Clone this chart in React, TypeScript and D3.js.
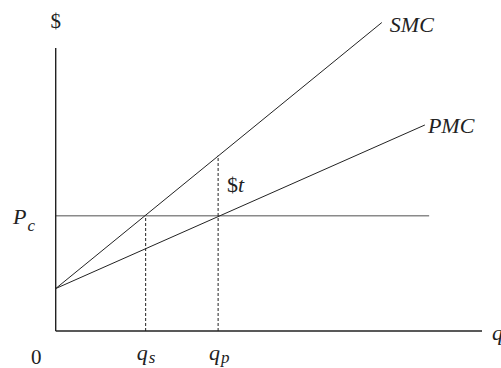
import React from "react";
import * as d3 from "d3";

// curves as endpoints in (quantity, price) units
const smcLine = [
  { q: 0, p: 1.5 },
  { q: 7.65, p: 10.9 },
];
const pmcLine = [
  { q: 0, p: 1.5 },
  { q: 8.66, p: 7.28 },
];
const priceCompetitive = 4.07;
const priceLineEnd = 8.76;
const dropQuantities = [2.11, 3.81];
const dropTops = [4.07, 6.2];
const dropLabels = ["s", "p"];

const width = 501;
const height = 368;
const margin = { top: 48, right: 19, bottom: 37, left: 55.7 };

const font = "Liberation Serif, Tinos, DejaVu Serif, serif";

export default function App() {
  const x = d3.scaleLinear().domain([0, 10]).range([margin.left, width - margin.right]);
  const y = d3.scaleLinear().domain([0, 10]).range([height - margin.bottom, margin.top]);

  const line = d3
    .line<{ q: number; p: number }>()
    .x(d => x(d.q))
    .y(d => y(d.p));

  const smcEnd = smcLine[smcLine.length - 1];
  const pmcEnd = pmcLine[pmcLine.length - 1];
  const txt = { fill: "#222", style: { fontFamily: font } };

  return (
    <svg
      width={width}
      height={height}
      style={{ position: "absolute", left: 0, top: 0, background: "#fff" }}
    >
      {/* competitive price line */}
      <line
        x1={x(0)}
        x2={x(priceLineEnd)}
        y1={y(priceCompetitive)}
        y2={y(priceCompetitive)}
        stroke="#8a8a8a"
        strokeWidth={1.6}
      />

      {/* dashed drop lines */}
      {dropQuantities.map((q, i) => (
        <line
          key={i}
          x1={x(q)}
          x2={x(q)}
          y1={y(0)}
          y2={y(dropTops[i])}
          stroke="#222"
          strokeWidth={1}
          strokeDasharray="3,2"
        />
      ))}

      <path d={line(smcLine) ?? ""} fill="none" stroke="#222" strokeWidth={1} />
      <path d={line(pmcLine) ?? ""} fill="none" stroke="#222" strokeWidth={1} />

      {/* axes */}
      <line x1={x(0)} x2={x(0)} y1={y(0)} y2={y(10)} stroke="#222" strokeWidth={1.4} />
      <line x1={x(0)} x2={x(10)} y1={y(0)} y2={y(0)} stroke="#222" strokeWidth={1.4} />

      {/* labels */}
      <text {...txt} x={x(0)} y={28} fontSize={21} textAnchor="middle">
        $
      </text>
      <text {...txt} x={x(smcEnd.q) + 8} y={31.5} fontSize={22} fontStyle="italic">
        SMC
      </text>
      <text {...txt} x={x(pmcEnd.q) + 3} y={y(pmcEnd.p) + 8} fontSize={22} fontStyle="italic">
        PMC
      </text>
      <text {...txt} x={227} y={192} fontSize={22}>
        $<tspan fontStyle="italic">t</tspan>
      </text>
      <text {...txt} x={13} y={y(priceCompetitive) + 8} fontSize={22} fontStyle="italic">
        P
        <tspan fontSize={17} dy={7} dx={1}>
          c
        </tspan>
      </text>
      <text {...txt} x={31} y={364} fontSize={21}>
        0
      </text>
      {dropQuantities.map((q, i) => (
        <text key={i} {...txt} x={x(q) - 9} y={360} fontSize={22} fontStyle="italic">
          q
          <tspan fontSize={17} dy={3} dx={1}>
            {dropLabels[i]}
          </tspan>
        </text>
      ))}
      <text {...txt} x={492} y={y(0) + 9} fontSize={22} fontStyle="italic">
        q
      </text>
    </svg>
  );
}
